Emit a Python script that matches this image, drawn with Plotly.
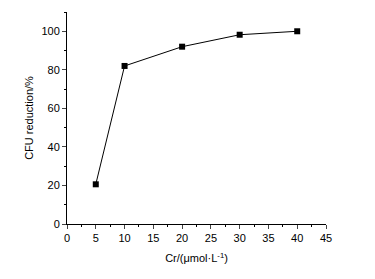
import plotly.graph_objects as go

conc = [5, 10, 20, 30, 40]
reduction = [20.6, 82, 92, 98.2, 100]
x_ticks = [0, 5, 10, 15, 20, 25, 30, 35, 40, 45]
y_ticks = [0, 20, 40, 60, 80, 100]

fig = go.Figure()
fig.add_trace(go.Scatter(
    x=conc, y=reduction, mode="lines+markers",
    line=dict(color="black", width=1),
    marker=dict(symbol="square", size=6, color="black"),
    showlegend=False,
))

font = dict(family="Liberation Sans, Arial, sans-serif", size=11, color="black")
fig.update_layout(
    width=367, height=271,
    margin=dict(l=59, r=49, t=4, b=55),
    paper_bgcolor="white", plot_bgcolor="white",
    font=font,
    xaxis=dict(
        range=[0, 45], tickvals=x_ticks, ticks="outside", ticklen=4, tickwidth=1,
        showline=True, linecolor="black", linewidth=1, showgrid=False, zeroline=False,
        minor=dict(ticks="outside", ticklen=2, dtick=2.5, tickcolor="black"),
        title=dict(text="Cr/(μmol·L<sup>-1</sup>)", standoff=11, font=font),
        tickfont=font, automargin=False,
    ),
    yaxis=dict(
        range=[0, 110], tickvals=y_ticks, ticks="outside", ticklen=4, tickwidth=1,
        showline=True, linecolor="black", linewidth=1, showgrid=False, zeroline=False,
        minor=dict(ticks="outside", ticklen=2, dtick=10, tickcolor="black"),
        title=dict(text="CFU reduction/%", standoff=5, font=font),
        tickfont=font, automargin=False,
    ),
)
fig.write_html("out.html")
